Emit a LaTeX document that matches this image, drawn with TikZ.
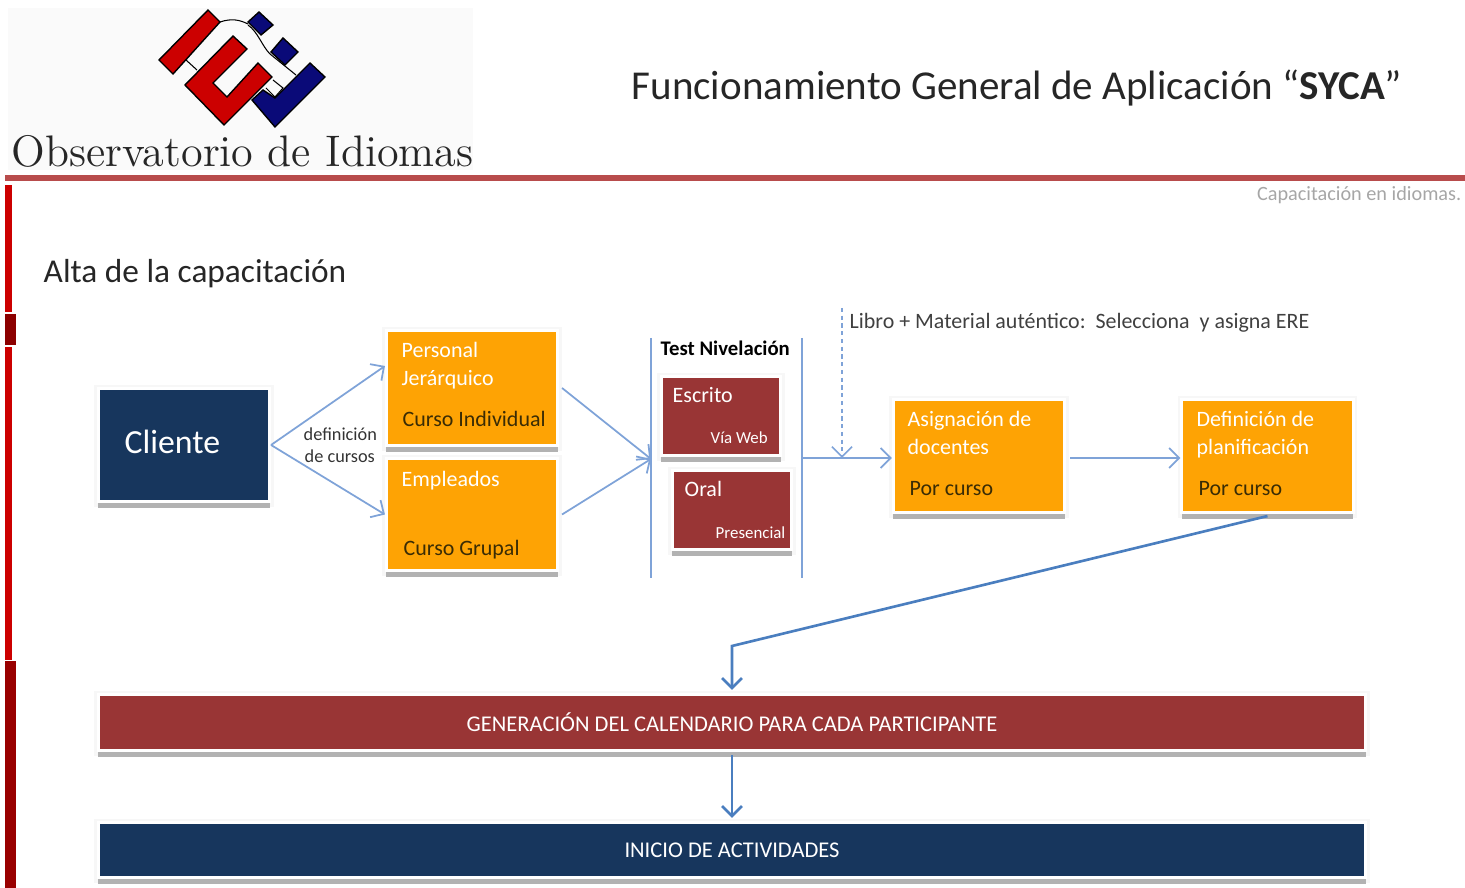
\documentclass[tikz,border=0pt]{standalone}
\usepackage{fontspec}
\setmainfont{Carlito}
\newfontfamily\logofont{Latin Modern Roman}
\usetikzlibrary{arrows.meta,shadows}
\definecolor{naranja}{HTML}{FEA304}
\definecolor{marino}{HTML}{17365D}
\definecolor{vino}{HTML}{993535}
\definecolor{azulclaro}{HTML}{7FA3D8}
\definecolor{azulfuerte}{HTML}{4A7EBF}
\definecolor{rojologo}{HTML}{CC0000}
\definecolor{azullogo}{HTML}{0A0A78}
\definecolor{tinta}{HTML}{3A2C05}
\tikzset{
  caja/.style={draw=white, line width=0.03cm, inner sep=0pt, text=white,
    general shadow={shadow xshift=0cm, shadow yshift=-0.01cm, fill=black!3, draw=black!3, line width=0.08cm},
    general shadow={shadow xshift=0cm, shadow yshift=-0.065cm, fill=black!30}},
  cajanaranja/.style={caja, fill=naranja, minimum width=1.71cm},
  cajavino/.style={caja, fill=vino, minimum width=1.19cm, minimum height=.79cm},
  cajaancha/.style={caja, minimum width=12.67cm, font=\fontsize{6.4}{8}\selectfont},
  rotulo/.style={anchor=base west, inner sep=0pt, font=\fontsize{6.25}{8}\selectfont, text=#1},
  rotulo/.default=white,
  flecha/.style={draw=azulclaro, line width=0.5pt, -{Straight Barb[length=0.1cm, width=0.2cm]}},
  flechafuerte/.style={draw=azulfuerte, line width=0.75pt, -{Straight Barb[length=0.1cm, width=0.2cm]}},
  barra/.style={draw=azulclaro, line width=0.6pt}
}
\begin{document}
\begin{tikzpicture}[x=0.01cm, y=-0.01cm]
\useasboundingbox (0,0) rectangle (1465,888);

% Logo
\fill[black!2] (8,8) rectangle (473,170);
\draw[black, line width=0.3pt] (220,22) .. controls (232,18) and (240,20) .. (248,24) (248,25) .. controls (258,32) and (262,46) .. (270,54) (186,60) -- (197,70) (270,54) -- (296,75) (273,80) -- (283,88) -- (275,97) -- (266,88);
\filldraw[fill=azullogo, draw=black, line width=0.4pt] (310,63) -- (325,77) -- (275,127) -- (252,100) -- (263,90) -- (275,98) -- cycle;
\filldraw[fill=rojologo, draw=black, line width=0.4pt] (208,10) -- (220,22) -- (173,74) -- (159,60) -- cycle;
\filldraw[fill=rojologo, draw=black, line width=0.4pt] (233,36) -- (247,49) -- (213,83) -- (227,97) -- (258,63) -- (272,77) -- (224,125) -- (185,85) -- cycle;
\filldraw[fill=azullogo, draw=black, line width=0.4pt] (259,12) -- (273,25) -- (261,35) -- (248,22) -- cycle;
\filldraw[fill=azullogo, draw=black, line width=0.4pt] (283,38) -- (298,52) -- (285,65) -- (271,52) -- cycle;
\node[anchor=base west, inner sep=0pt, text=black!85, font=\logofont\fontsize{12.56}{14}\selectfont] (logotxt) at (11,167) {Observatorio de Idiomas};

% Cabecera y franjas
\node[anchor=base west, inner sep=0pt, text=black!85, font=\fontsize{11.67}{14}\selectfont] (titulo) at (631,100) {Funcionamiento General de Aplicación “\textbf{SYCA}”};
\fill[red!60!black!70!white] (5,175) rectangle (1465,181);
\fill[rojologo] (5,185) rectangle (12,312);
\fill[red!55!black] (5,314) rectangle (16,345);
\fill[rojologo] (5,347) rectangle (12,660);
\fill[red!60!black] (5,661) rectangle (16,888);
\node[anchor=base east, inner sep=0pt, text=black!35, font=\fontsize{5.76}{7}\selectfont] (lema) at (1462,201) {Capacitación en idiomas.};
\node[anchor=base west, inner sep=0pt, text=black!85, font=\fontsize{9.48}{11}\selectfont] (alta) at (43,283) {Alta de la capacitación};

% Cajas
\node[caja, fill=marino, minimum width=1.71cm, minimum height=1.13cm] (cliente) at (184,445) {};
\node[cajanaranja, minimum height=1.15cm] (personal) at (472,388) {};
\node[cajanaranja, minimum height=1.12cm] (empleados) at (472,514.5) {};
\node[cajavino] (escrito) at (721,416) {};
\node[cajavino] (oral) at (732,510) {};
\node[cajanaranja, minimum height=1.13cm] (asignacion) at (979,456) {};
\node[cajanaranja, minimum height=1.13cm] (definicion) at (1267.5,456) {};
\node[cajaancha, fill=vino, minimum height=.56cm] (generacion) at (732,722.5) {GENERACIÓN DEL CALENDARIO PARA CADA PARTICIPANTE};
\node[cajaancha, fill=marino, minimum height=.55cm] (inicio) at (732,850) {INICIO DE ACTIVIDADES};

% Textos de las cajas
\node[rotulo, font=\fontsize{9.6}{11}\selectfont] (clientetxt) at (124,454) {Cliente};
\node[rotulo] (personaltxt) at (401,358) {Personal};
\node[rotulo] (jerarquicotxt) at (401,386) {Jerárquico};
\node[rotulo=tinta] (individualtxt) at (402,427) {Curso Individual};
\node[rotulo] (empleadostxt) at (401,487) {Empleados};
\node[rotulo=tinta] (grupaltxt) at (403,556) {Curso Grupal};
\node[rotulo] (escritotxt) at (672,403) {Escrito};
\node[rotulo, font=\fontsize{4.8}{6}\selectfont] (webtxt) at (710,444) {Vía Web};
\node[rotulo] (oraltxt) at (684,497) {Oral};
\node[rotulo, font=\fontsize{4.8}{6}\selectfont] (presencialtxt) at (715,539) {Presencial};
\node[rotulo] (asignaciontxt) at (907,427) {Asignación de};
\node[rotulo] (docentestxt) at (907,455) {docentes};
\node[rotulo=tinta] (porcursoa) at (909,496) {Por curso};
\node[rotulo] (definiciontxt) at (1196,427) {Definición de};
\node[rotulo] (planificaciontxt) at (1196,455) {planificación};
\node[rotulo=tinta] (porcursob) at (1198,496) {Por curso};
\node[rotulo=black!80, font=\fontsize{5.2}{6}\selectfont] (definicioncur) at (303,441) {definición};
\node[rotulo=black!80, font=\fontsize{5.2}{6}\selectfont] (decursos) at (304,463) {de cursos};
\node[rotulo=black, font=\bfseries\fontsize{5.9}{7}\selectfont] (testtxt) at (660,356) {Test Nivelación};
\node[rotulo=black!75, font=\fontsize{6.24}{8}\selectfont] (librotxt) at (849,329) {Libro + Material auténtico:\ \ Selecciona\ \ y asigna ERE};

% Barras del test
\coordinate (barraIa) at (651,338);
\coordinate (barraIb) at (651,578);
\coordinate (barraI) at (651,459);
\coordinate (barraDa) at (802,338);
\coordinate (barraDb) at (802,578);
\coordinate (barraD) at (802,458);
\coordinate (libro) at (842,308);
\coordinate (libroFin) at (842,458);
\coordinate (quiebre) at (732,646);
\draw[barra] (barraIa) -- (barraIb);
\draw[barra] (barraDa) -- (barraDb);

% Conectores
\draw[flecha] (cliente.east) -- ([yshift=0.22cm]personal.west);
\draw[flecha] (cliente.east) -- (empleados.west);
\draw[flecha] ([xshift=0.03cm]personal.east) -- (barraI);
\draw[flecha] ([xshift=0.03cm]empleados.east) -- (barraI);
\draw[flecha] (barraD) -- ([yshift=-0.02cm]asignacion.west);
\draw[flecha] ([xshift=0.04cm, yshift=-0.02cm]asignacion.east) -- ([yshift=-0.02cm]definicion.west);
\draw[flecha, dash pattern=on 1.2pt off 1pt] (libro) -- (libroFin);
\draw[flechafuerte] ([yshift=-0.02cm]definicion.south) -- (quiebre) -- ([yshift=0.03cm]generacion.north);
\draw[flechafuerte] ([yshift=-0.03cm]generacion.south) -- ([yshift=0.03cm]inicio.north);
\end{tikzpicture}
\end{document}
